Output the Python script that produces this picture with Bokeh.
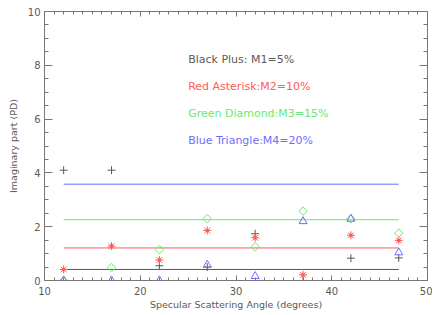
import math
from bokeh.plotting import figure
from bokeh.models import LinearAxis, Range1d, FixedTicker, Label, CustomLabelingPolicy
from bokeh.embed import file_html
from bokeh.resources import INLINE

angles = [12, 17, 22, 27, 32, 37, 42, 47]
m1_plus = [4.1, 4.1, 0.55, 0.5, 1.74, 0.0, 0.83, 0.84]
m2_asterisk = [0.41, 1.28, 0.76, 1.86, 1.59, 0.21, 1.68, 1.49]
m3_diamond = [0.0, 0.48, 1.15, 2.30, 1.25, 2.58, 2.29, 1.76]
m4_triangle = [0.0, 0.0, 0.0, 0.58, 0.16, 2.20, 2.29, 1.04]
levels = [0.41, 1.21, 2.26, 3.58]
legend_texts = ["Black Plus: M1=5%", "Red Asterisk:M2=10%",
                "Green Diamond:M3=15%", "Blue Triangle:M4=20%"]
x_ticks = [10, 20, 30, 40, 50]
y_ticks = [0, 2, 4, 6, 8, 10]

colors = ["#5a5a5a", "#ff5a5a", "#6ee86e", "#6e6eff"]
axis_color = "#777777"
text_color = "#5a5a5a"
FONT = "DejaVu Sans"

p = figure(width=432, height=312, output_backend="svg",
           toolbar_location=None, x_range=Range1d(10, 50), y_range=Range1d(0, 10),
           min_border_left=44, min_border_right=5, min_border_top=11, min_border_bottom=32,
           x_axis_location=None, y_axis_location=None)
p.grid.visible = False
p.outline_line_color = axis_color
p.background_fill_color = "white"
p.border_fill_color = "white"

minor_x = [v for v in range(10, 51)]
minor_y = [v * 0.5 for v in range(0, 21)]

no_labels = CustomLabelingPolicy(code="""
try {
  const a = Array.from(indices.ones());
  for (const i of a) { indices.unset(i); }
} catch (e) {}
return indices;
""")

def make_axis(kind, labels):
    ax = LinearAxis()
    if kind == "x":
        ax.ticker = FixedTicker(ticks=x_ticks, minor_ticks=minor_x)
        ax.major_tick_in, ax.minor_tick_in = 5, 3
    else:
        ax.ticker = FixedTicker(ticks=y_ticks, minor_ticks=minor_y)
        ax.major_tick_in, ax.minor_tick_in = 8, 4
    ax.major_tick_out = 0
    ax.minor_tick_out = 0
    ax.axis_line_color = axis_color
    ax.major_tick_line_color = axis_color
    ax.minor_tick_line_color = axis_color
    ax.major_label_text_color = text_color
    ax.major_label_text_font = FONT
    ax.major_label_text_font_size = "10px"
    ax.axis_label_text_color = text_color
    ax.axis_label_text_font = FONT
    ax.axis_label_text_font_size = "9.5px"
    ax.axis_label_text_font_style = "normal"
    if not labels:
        ax.major_label_policy = no_labels
        ax.major_label_standoff = 0
        ax.major_label_text_font_size = "0px"
    return ax

xb = make_axis("x", True)
xb.axis_label = "Specular Scattering Angle (degrees)"
xb.major_label_standoff = 6
xb.axis_label_standoff = 1
yl = make_axis("y", True)
yl.axis_label = "Imaginary part (PD)"
yl.major_label_standoff = 4
yl.axis_label_standoff = 6
p.add_layout(xb, "below")
p.add_layout(yl, "left")
p.add_layout(make_axis("x", False), "above")
p.add_layout(make_axis("y", False), "right")

series = [m1_plus, m2_asterisk, m3_diamond, m4_triangle]
markers = ["cross", "asterisk", "square", "triangle"]
sizes = [8, 8, 6, 8]
rotations = [0, 0, math.pi / 4, 0]
for c, lv in zip(colors, levels):
    p.line([angles[0], angles[-1]], [lv, lv], line_color=c, line_width=1)
for s, mk, c, sz, rot in zip(series, markers, colors, sizes, rotations):
    p.scatter(angles, s, marker=mk, size=sz, angle=rot, line_color=c,
              fill_color=None, line_width=1)
# red asterisk filled center
p.scatter(angles, m2_asterisk, marker="square", size=3, line_color=None, fill_color=colors[1])

label_y = [8.2, 7.2, 6.2, 5.2]
for t, c, yy in zip(legend_texts, colors, label_y):
    p.add_layout(Label(x=25.0, y=yy, text=t, text_color=c, text_font=FONT,
                       text_font_size="11px", text_baseline="middle"))

open("out.html", "w").write(file_html(p, INLINE))
